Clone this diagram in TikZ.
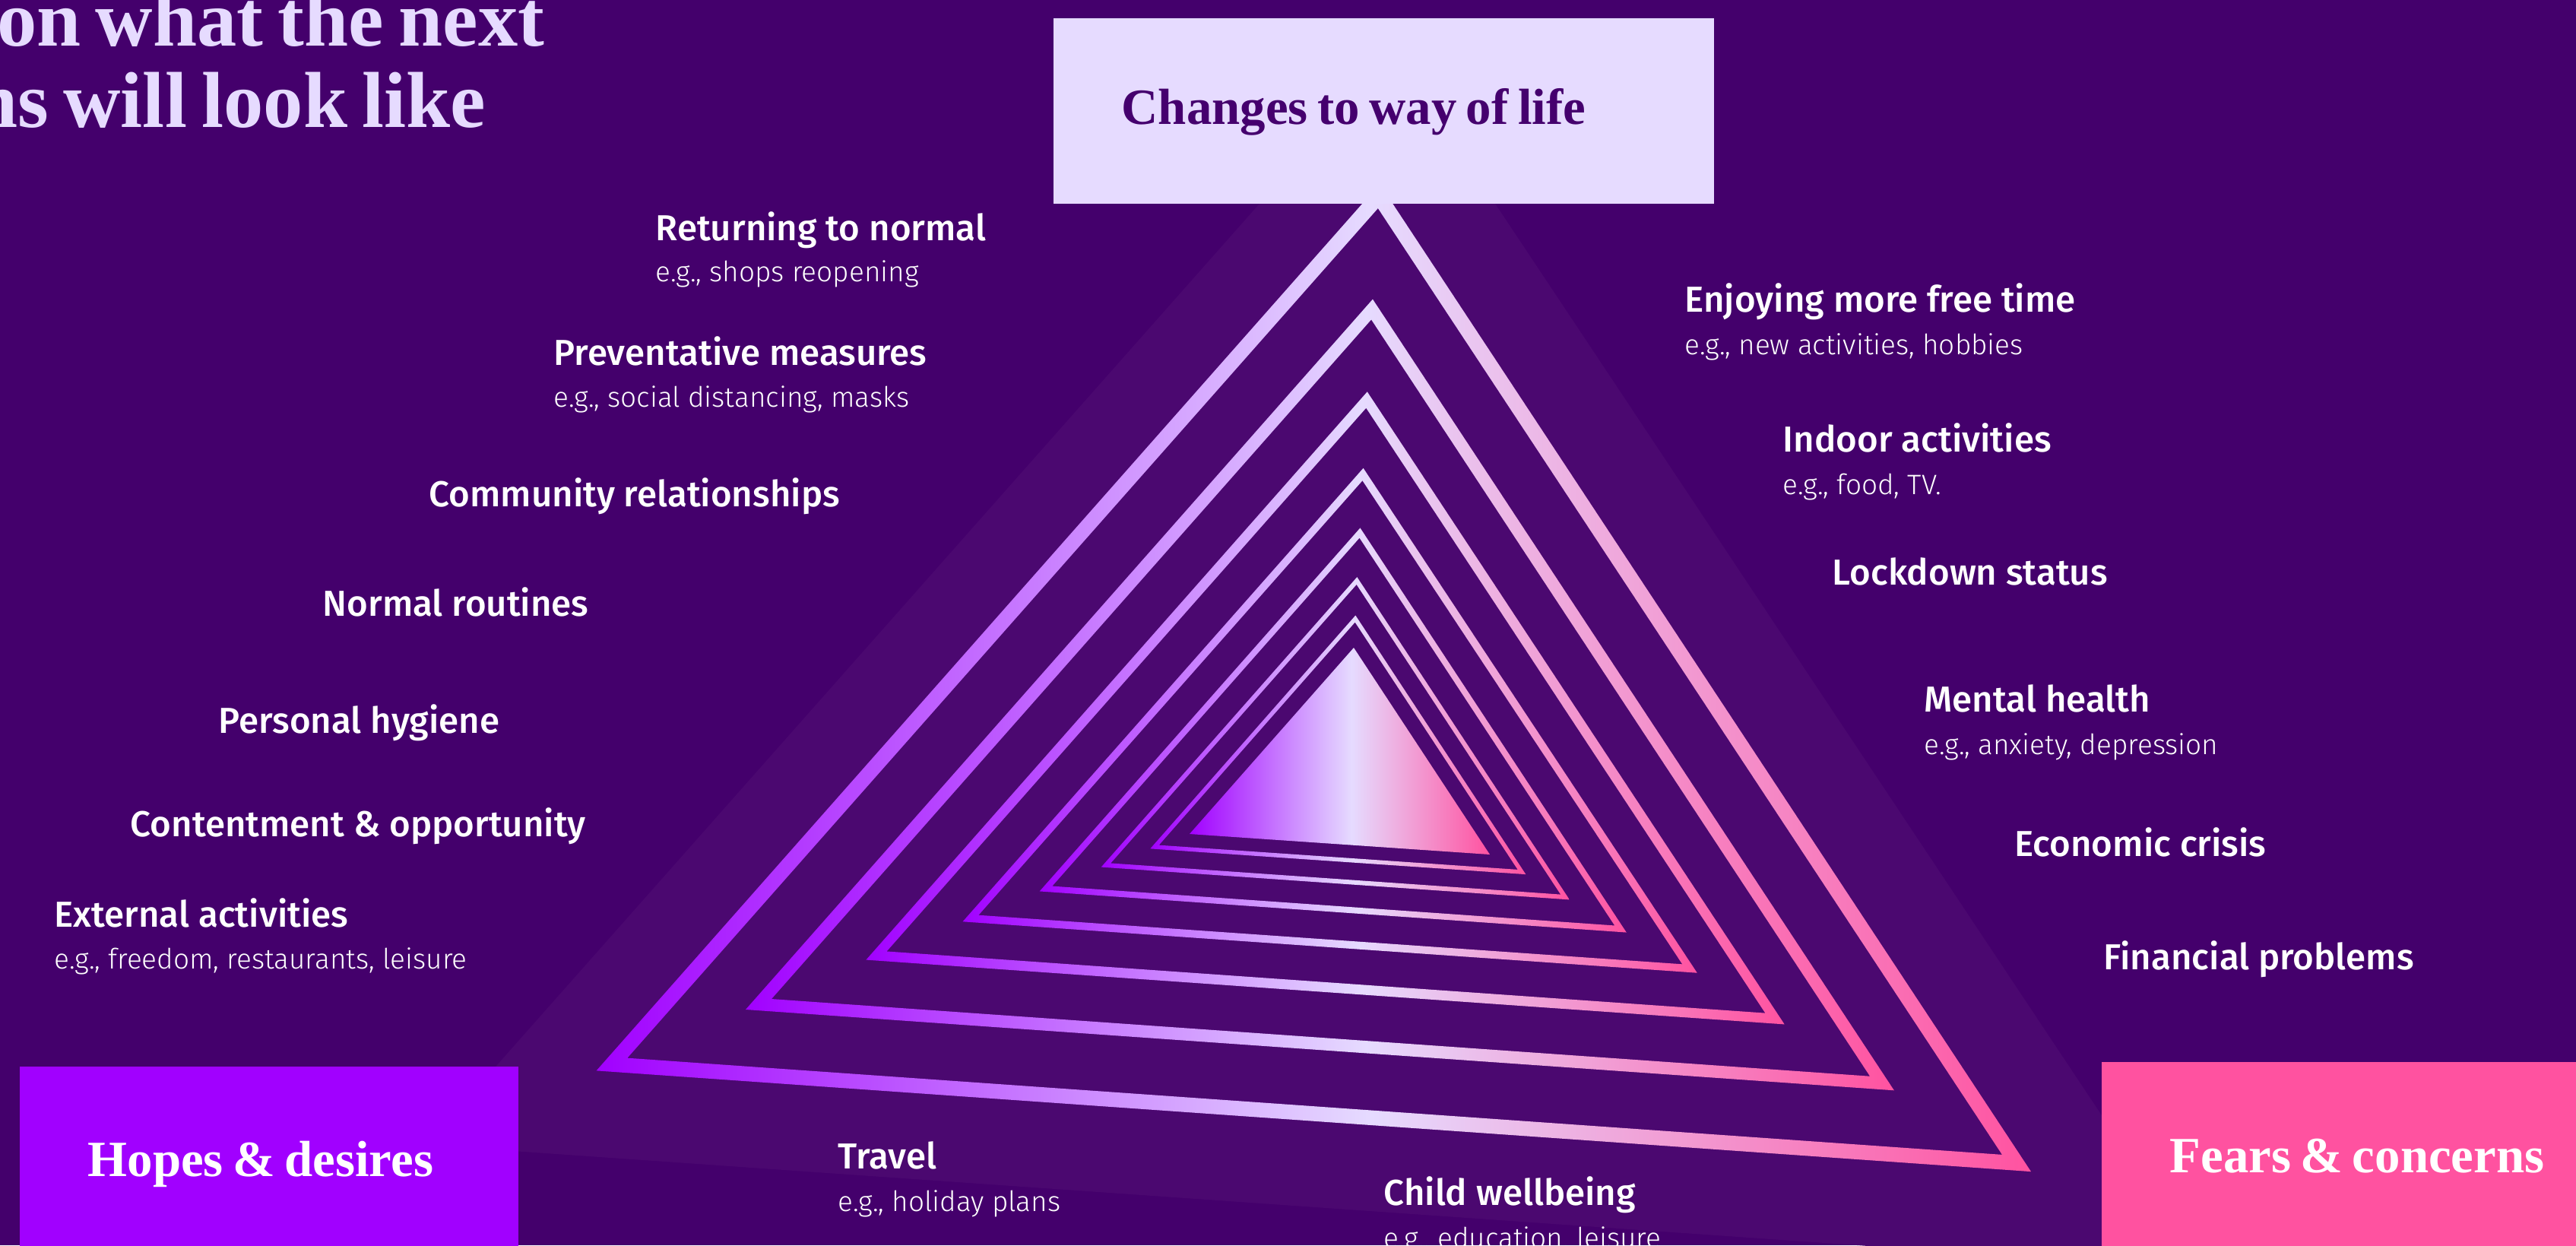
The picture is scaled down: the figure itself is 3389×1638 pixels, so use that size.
\documentclass[tikz,border=0pt]{standalone}
\usepackage{fontspec}
\setmainfont{Liberation Serif}[WordSpace=0.75]
\IfFontExistsTF{Fira Sans Medium}
  {\newfontfamily\itemfont{Fira Sans Medium}}
  {\newfontfamily\itemfont{Fira Sans}[FakeBold=1.5]}
\IfFontExistsTF{Fira Sans Light}
  {\newfontfamily\egfont{Fira Sans Light}}
  {\newfontfamily\egfont{Fira Sans}}
\usetikzlibrary{calc}

\definecolor{bgdark}{HTML}{44006C}
\definecolor{bglight}{HTML}{4B0870}
\definecolor{lavender}{HTML}{E6DBFF}
\definecolor{hopes}{HTML}{A100FF}
\definecolor{fears}{HTML}{FF52A0}
\definecolor{ink}{HTML}{45006E}

\pgfdeclarehorizontalshading{ringshade}{100bp}{color(0bp)=(hopes); color(25bp)=(hopes); color(52bp)=(lavender); color(75bp)=(fears); color(100bp)=(fears)}

% ring of width #7 round the triangle #1#2 / #3#4 / #5#6 (all in px)
\newcommand{\ringtri}[7]{%
  \pgfmathsetmacro{\tria}{veclen((#3-#5)/100,(#4-#6)/100)}%
  \pgfmathsetmacro{\trib}{veclen((#5-#1)/100,(#6-#2)/100)}%
  \pgfmathsetmacro{\tric}{veclen((#1-#3)/100,(#2-#4)/100)}%
  \pgfmathsetmacro{\trip}{\tria+\trib+\tric}%
  \pgfmathsetmacro{\trix}{((\tria*(#1/100)+\trib*(#3/100)+\tric*(#5/100))/\trip)*100}%
  \pgfmathsetmacro{\triy}{((\tria*(#2/100)+\trib*(#4/100)+\tric*(#6/100))/\trip)*100}%
  \pgfmathsetmacro{\trir}{abs(((#3-#1)/100)*((#6-#2)/100)-((#4-#2)/100)*((#5-#1)/100))/\trip}%
  \pgfmathsetmacro{\trio}{1+(#7/200)/\trir}%
  \pgfmathsetmacro{\trii}{1-(#7/200)/\trir}%
  \shade[shading=ringshade, even odd rule]
    ($(\trix,\triy)!\trio!(#1,#2)$) -- ($(\trix,\triy)!\trio!(#3,#4)$) -- ($(\trix,\triy)!\trio!(#5,#6)$) -- cycle
    ($(\trix,\triy)!\trii!(#1,#2)$) -- ($(\trix,\triy)!\trii!(#3,#4)$) -- ($(\trix,\triy)!\trii!(#5,#6)$) -- cycle;
}

\tikzset{
  head/.style={anchor=base west, inner sep=0pt, font=\fontsize{19}{22}\selectfont\bfseries},
  box/.style={anchor=north west, inner sep=0pt, minimum width=#1},
  item/.style={anchor=base west, inner sep=0pt, text=white, font=\itemfont\fontsize{13.5}{15}\selectfont},
  eg/.style={anchor=base west, inner sep=0pt, text=white, font=\egfont\fontsize{10.5}{12}\selectfont}
}

\begin{document}
\begin{tikzpicture}[x=0.01cm, y=-0.01cm]
\useasboundingbox (0,0) rectangle (3389,1638);
\fill[bgdark] (0,0) rectangle (3389,1638);
\fill[bglight] (1834,68) -- (561,1506) -- (2900,1670) -- cycle;

\ringtri{1814}{258}{805}{1400}{2653}{1530}{19.5}
\ringtri{1805}{407}{998}{1321}{2476}{1425}{16.3}
\ringtri{1798}{526}{1153}{1257}{2335}{1340}{13}
\ringtri{1793}{624}{1277}{1208}{2223}{1274}{10}
\ringtri{1789}{701}{1376}{1169}{2132}{1222}{8}
\ringtri{1785}{764}{1455}{1138}{2059}{1180}{6}
\ringtri{1783}{814}{1519}{1114}{2002}{1147}{5.5}
\shade[shading=ringshade] (1781,852) -- (1565,1097) -- (1960,1124) -- cycle;

\node[anchor=base east, inner sep=0pt, text=lavender, font=\fontsize{29.7}{32}\selectfont\bfseries] (title1) at (717,60) {on what the next};
\node[anchor=base east, inner sep=0pt, text=lavender, font=\fontsize{29.7}{32}\selectfont\bfseries] (title2) at (640,167) {ns will look like};

\node[box=8.69cm, minimum height=2.44cm, fill=lavender] (changes) at (1385,23) {};
\node[head, text=ink] (changes-text) at (1475,163) {Changes to way of life};
\node[box=6.56cm, minimum height=2.7cm, fill=hopes] (hopes) at (25,1402) {};
\node[head, text=white] (hopes-text) at (115,1547) {Hopes \& desires};
\node[box=6.56cm, minimum height=2.7cm, fill=fears] (fears) at (2764,1396) {};
\node[head, text=white] (fears-text) at (2854,1542) {Fears \& concerns};

\node[item] (normal) at (862,316) {Returning to normal};
\node[eg] (normal-eg) at (862,370) {e.g., shops reopening};
\node[item] (measures) at (728,480) {Preventative measures};
\node[eg] (measures-eg) at (728,535) {e.g., social distancing, masks};
\node[item] (community) at (564,666) {Community relationships};
\node[item] (routines) at (424,810) {Normal routines};
\node[item] (hygiene) at (287,964) {Personal hygiene};
\node[item] (content) at (171,1100) {Contentment \& opportunity};
\node[item] (external) at (71,1219) {External activities};
\node[eg] (external-eg) at (71,1274) {e.g., freedom, restaurants, leisure};

\node[item] (freetime) at (2216,410) {Enjoying more free time};
\node[eg] (freetime-eg) at (2216,466) {e.g., new activities, hobbies};
\node[item] (indoor) at (2345,594) {Indoor activities};
\node[eg] (indoor-eg) at (2345,650) {e.g., food, TV.};
\node[item] (lockdown) at (2410,769) {Lockdown status};
\node[item] (mental) at (2531,936) {Mental health};
\node[eg] (mental-eg) at (2531,992) {e.g., anxiety, depression};
\node[item] (economic) at (2650,1126) {Economic crisis};
\node[item] (financial) at (2767,1275) {Financial problems};

\node[item] (travel) at (1102,1537) {Travel};
\node[eg] (travel-eg) at (1102,1593) {e.g., holiday plans};
\node[item] (child) at (1820,1585) {Child wellbeing};
\node[eg] (child-eg) at (1820,1641) {e.g., education, leisure};
\end{tikzpicture}
\end{document}
